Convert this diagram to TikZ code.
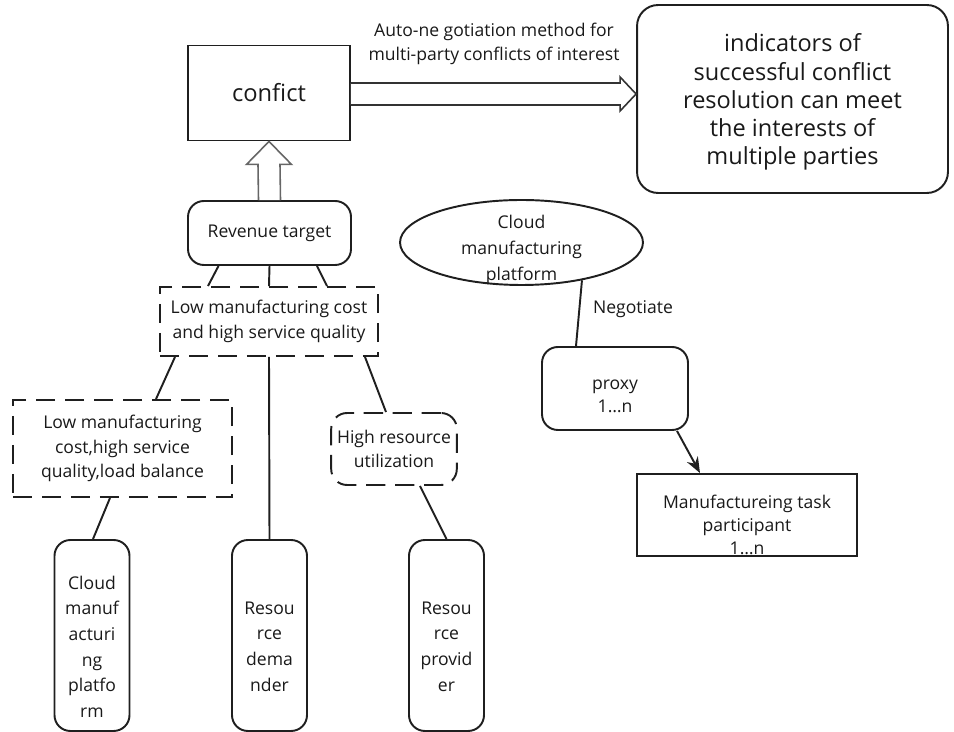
\documentclass[tikz,border=0pt]{standalone}
\usepackage{fontspec}
\setmainfont{Open Sans}
\usetikzlibrary{shapes.geometric,arrows.meta,calc}

\begin{document}
\begin{tikzpicture}[x=0.02cm, y=-0.02cm,
    every node/.style={font=\fontsize{10}{14}\selectfont, text=black!90, align=center},
    box/.style={draw=black!88, rectangle, line width=1.1pt},
    rbox/.style={box, rounded corners=9pt},
    dbox/.style={box, dash pattern=on 11pt off 5.5pt},
    leaf/.style={rbox, minimum width=1.5cm, minimum height=3.82cm},
    lowtext/.style={yshift=-#1, font=\fontsize{10}{14.6}\selectfont},
    link/.style={draw=black!88, line width=1.1pt},
    hollow/.style={draw=black!80, line width=0.9pt, fill=white, line join=miter}]
    \useasboundingbox (0,0) rectangle (954,732);

    \node[box, minimum width=3.24cm, minimum height=1.9cm, font=\fontsize{13.5}{16}\selectfont] (conflict) at (269,93) {confict};
    \node[rbox, rounded corners=12pt, minimum width=6.22cm, minimum height=3.76cm, font=\fontsize{13.4}{16}\selectfont,
        label={[lowtext=1.7pt, font=\fontsize{13.4}{16}\selectfont]center:{indicators of\\
        successful conflict\\
        resolution can meet\\
        the interests of\\
        multiple parties}}] (goal) at (792.5,99) {};
    \node (method) at (494,44) {
        Auto-ne gotiation method for\\
        multi-party conflicts of interest
    };

    \node[rbox, minimum width=3.26cm, minimum height=1.28cm] (revenue) at (269.5,233) {Revenue target};
    \node[dbox, minimum width=4.36cm, minimum height=1.38cm] (quality) at (269,321.5) {
        Low manufacturing cost\\
        and high service quality
    };
    \node[dbox, minimum width=4.38cm, minimum height=1.94cm] (balance) at (122.5,448.5) {
        Low manufacturing\\
        cost,high service\\
        quality,load balance
    };
    \node[dbox, rounded corners=9pt, minimum width=2.44cm, minimum height=1.44cm] (util) at (394,449) {
        High resource\\
        utilization
    };

    \node[leaf, label={[lowtext=6.3pt]center:{Cloud\\manuf\\acturi\\ng\\platfo\\rm}}] (platformleaf) at (92,635.5) {};
    \node[leaf, label={[lowtext=6.3pt]center:{Resou\\rce\\dema\\nder}}] (demander) at (269.5,635.5) {};
    \node[leaf, label={[lowtext=6.3pt]center:{Resou\\rce\\provid\\er}}] (provider) at (446.5,635.5) {};

    \node[draw=black!88, ellipse, line width=1.1pt, minimum width=4.86cm, minimum height=1.7cm, inner sep=0pt,
        label={[lowtext=4.2pt]center:{Cloud\\manufacturing\\platform}}] (platform) at (521.5,242.5) {};
    \node (negotiate) at (633,309) {Negotiate};
    \node[rbox, minimum width=2.92cm, minimum height=1.66cm,
        label={[lowtext=4.4pt, font=\fontsize{10}{13.1}\selectfont]center:{proxy\\1…n}}] (proxy) at (615,388.5) {};
    \node[box, minimum width=4.4cm, minimum height=1.64cm,
        label={[lowtext=5.7pt, font=\fontsize{10}{13.1}\selectfont]center:{Manufactureing task\\participant\\1…n}}] (participant) at (747,515) {};

    % hollow arrows
    \coordinate (a) at ($(conflict.east)+(0,1)$);
    \coordinate (b) at (goal.west |- a);
    \draw[hollow] ($(a)+(0,-11)$) -- ($(b)+(-16,-11)$) -- ($(b)+(-16,-17)$) -- (b)
        -- ($(b)+(-16,17)$) -- ($(b)+(-16,11)$) -- ($(a)+(0,11)$);
    \draw[hollow, draw=black!60] ($(revenue.north)+(-11,0)$) -- ($(conflict.south)+(-11,23)$)
        -- ($(conflict.south)+(-22.5,23)$) -- (conflict.south) -- ($(conflict.south)+(22.5,23)$)
        -- ($(conflict.south)+(11,23)$) -- ($(revenue.north)+(11,0)$);

    \draw[link] ($(revenue.south)+(-51,0)$) -- ($(quality.north)+(-61,0)$);
    \draw[link] (revenue.south) -- (quality.north);
    \draw[link] ($(revenue.south)+(47.5,0)$) -- ($(quality.north)+(58,0)$);

    \draw[link] ($(quality.south)+(-94,0)$) -- ($(balance.north)+(33.5,0)$);
    \draw[link] (quality.south) -- (demander.north);
    \draw[link] ($(quality.south)+(96,0)$) -- ($(util.north)+(-8,0)$);

    \draw[link] ($(balance.south)+(-12.5,0)$) -- ($(platformleaf.north)+(1,0)$);
    \draw[link] ($(util.south)+(26,0)$) -- (provider.north);

    \draw[link] (platform.-32.5) -- ($(proxy.north)+(-39,0)$);
    \draw[link, -{Stealth[length=9pt, width=7pt]}] ($(proxy.south)+(62,0)$) -- ($(participant.north)+(-47,0)$);
\end{tikzpicture}
\end{document}
